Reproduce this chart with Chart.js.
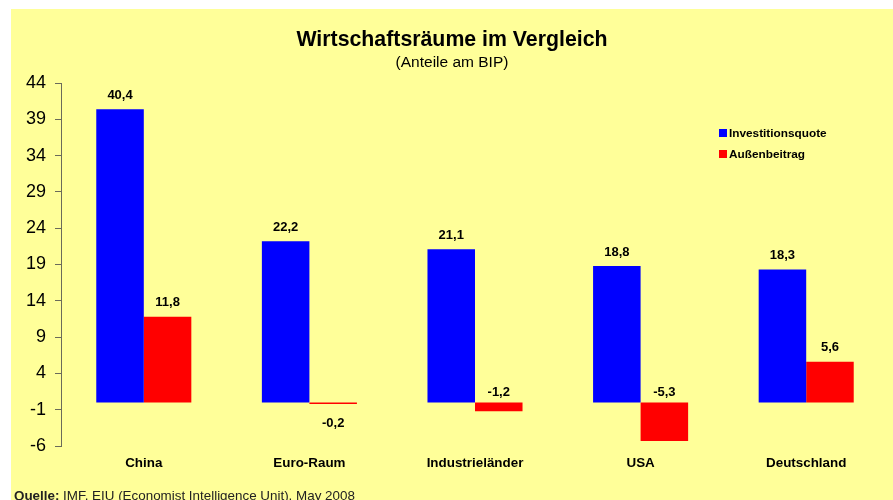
<!DOCTYPE html>
<html>
<head>
<meta charset="utf-8">
<script src="https://cdn.jsdelivr.net/npm/chart.js@4"></script>
<style>
body { margin: 0; background: #fff; }
#box { position: absolute; left: 11px; top: 9px; width: 882px; height: 491px; background: #FFFF99; }
</style>
</head>
<body>
<div id="box"><canvas id="chart" width="882" height="491"></canvas></div>
<script>
var categories = ['China', 'Euro-Raum', 'Industrieländer', 'USA', 'Deutschland'];
var investitionsquote = [40.4, 22.2, 21.1, 18.8, 18.3];
var aussenbeitrag = [11.8, -0.2, -1.2, -5.3, 5.6];
var yMin = -6;
var yMax = 44;
var yStep = 5;

var FONT = '"Liberation Sans", Arial, sans-serif';

function fmt(v) {
    return String(v).replace('.', ',');
}

// title, legend, value labels and source line
var decor = {
    id: 'decor',
    afterDatasetsDraw: function(chart) {
        var ctx = chart.ctx;
        ctx.save();
        ctx.fillStyle = '#000';
        ctx.textAlign = 'center';
        ctx.textBaseline = 'middle';
        ctx.font = 'bold 13px ' + FONT;
        chart.data.datasets.forEach(function(ds, i) {
            chart.getDatasetMeta(i).data.forEach(function(bar, j) {
                var v = ds.data[j];
                var y;
                if (v >= 0) y = bar.y - 14;
                else if (Math.abs(v) < 1) y = bar.y + 20;
                else y = bar.base - 10;
                ctx.fillText(fmt(v), bar.x, y);
            });
        });

        var w = chart.width;
        ctx.font = 'bold 21.3px ' + FONT;
        ctx.fillText('Wirtschaftsräume im Vergleich', w / 2, 31);
        ctx.font = '15.5px ' + FONT;
        ctx.fillText('(Anteile am BIP)', w / 2, 54);

        // legend
        ctx.textAlign = 'left';
        ctx.font = 'bold 11.8px ' + FONT;
        chart.data.datasets.forEach(function(ds, i) {
            var y = 120 + i * 21;
            ctx.fillStyle = ds.backgroundColor;
            ctx.fillRect(708, y, 8, 8);
            ctx.fillStyle = '#000';
            ctx.fillText(ds.label, 718, y + 4.5);
        });

        // source
        ctx.fillStyle = '#222';
        ctx.font = 'bold 13.4px ' + FONT;
        ctx.fillText('Quelle:', 3, 487);
        var qw = ctx.measureText('Quelle:').width;
        ctx.font = '13.4px ' + FONT;
        ctx.fillText(' IMF, EIU (Economist Intelligence Unit), May 2008', 3 + qw, 487);
        ctx.restore();
    }
};

var ctx = document.getElementById('chart');
var chartParams = {
    type: 'bar',
    data: {
        labels: categories,
        datasets: [{
            label: 'Investitionsquote',
            backgroundColor: '#0000FF',
            data: investitionsquote
        },
        {
            label: 'Außenbeitrag',
            backgroundColor: '#FF0000',
            data: aussenbeitrag
        }]
    },
    options: {
        responsive: false,
        animation: false,
        devicePixelRatio: 1,
        layout: { padding: { top: 74, right: 4, left: 0, bottom: 0 } },
        datasets: {
            bar: { categoryPercentage: 0.574, barPercentage: 1.0 }
        },
        plugins: {
            legend: { display: false },
            tooltip: { enabled: false }
        },
        scales: {
            x: {
                grid: { display: false, drawTicks: false },
                border: { display: false },
                ticks: {
                    color: '#000',
                    padding: 9,
                    font: { family: FONT, size: 13.4, weight: 'bold' }
                },
                afterFit: function(s) { s.height = 54; }
            },
            y: {
                min: yMin,
                max: yMax,
                ticks: {
                    stepSize: yStep,
                    color: '#000',
                    padding: 9,
                    font: { family: FONT, size: 18 }
                },
                grid: { drawOnChartArea: false, drawTicks: true, tickLength: 6, color: '#6b6b5a' },
                border: { display: true, color: '#6b6b5a' },
                afterFit: function(s) { s.width = 50; }
            }
        }
    },
    plugins: [decor]
};

var myChart = new Chart(ctx, chartParams);
</script>
</body>
</html>
